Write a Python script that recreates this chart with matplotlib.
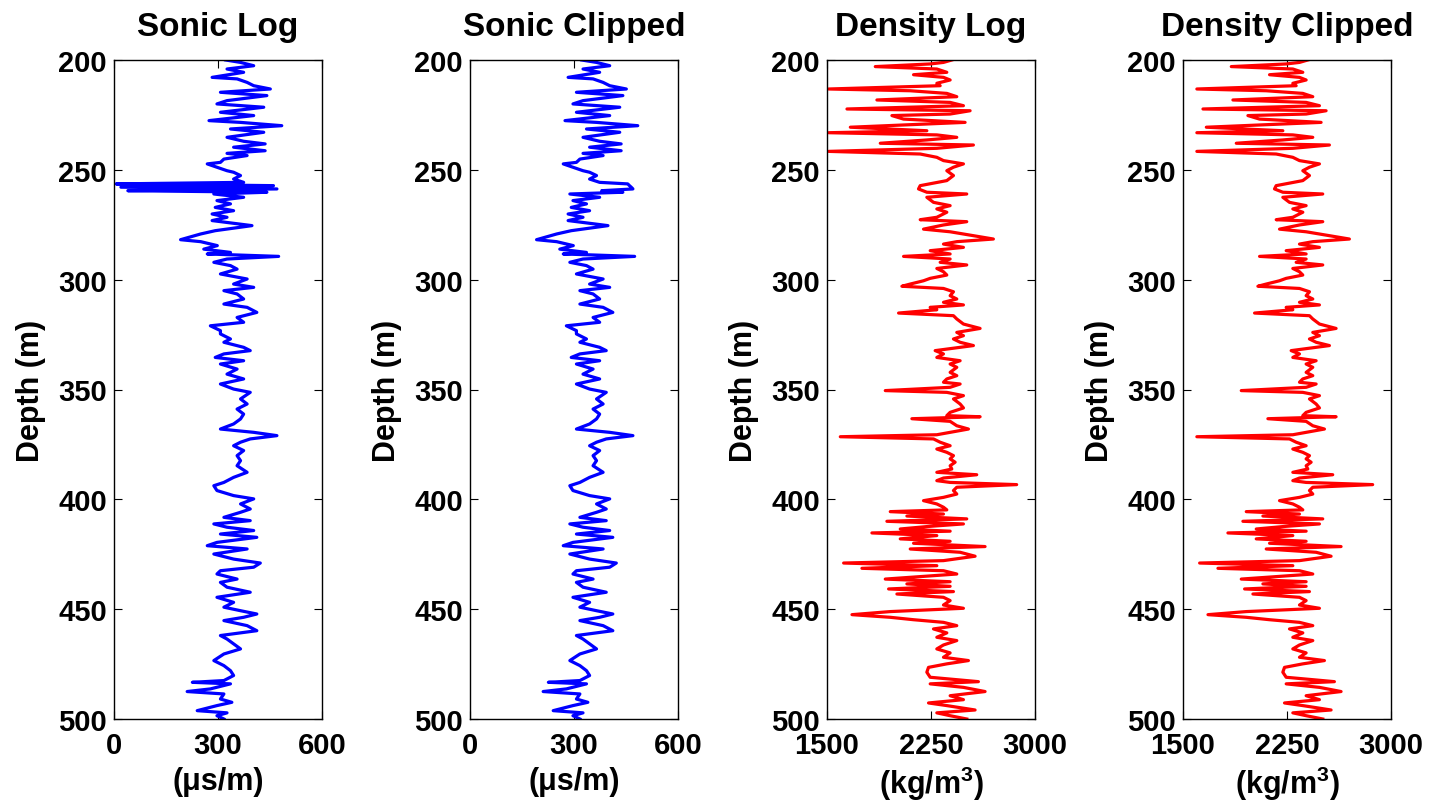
import matplotlib
matplotlib.use("Agg")
import matplotlib.pyplot as plt
import numpy as np

# ---- data ------------------------------------------------------------------
sonic_depth = [
    200.0, 201.1, 202.6, 204.1, 205.6, 207.9, 208.6, 210.2, 211.7, 213.2, 214.7, 216.2, 218.5, 220.0,
    221.5, 223.8, 225.3, 227.6, 228.4, 229.9, 231.4, 232.9, 235.2, 237.0, 238.2, 239.7, 241.3, 242.5,
    243.5, 245.1, 246.6, 247.3, 248.8, 250.4, 251.1, 252.6, 254.2, 255.7, 256.4, 257.2, 257.9, 258.7,
    259.5, 260.2, 261.0, 262.5, 264.0, 265.5, 267.1, 268.6, 270.1, 271.6, 273.1,
    275.4, 277.7, 279.2, 281.8, 282.7, 284.5, 286.1, 287.6, 288.3, 289.4, 290.6, 292.1, 293.6, 295.2,
    297.4, 299.7, 302.0, 303.5, 305.0, 306.5, 308.8, 311.1, 312.6, 314.9, 317.2, 319.4, 321.0, 323.2,
    324.7, 327.0, 328.5, 330.8, 332.3, 333.8, 335.4, 336.9, 338.4, 340.7, 343.0, 345.2, 347.5,
    349.8, 351.3, 354.3, 356.6, 358.9, 361.2, 363.4, 365.7, 368.0, 369.5, 371.0, 372.5, 374.0, 375.6,
    377.8, 380.1, 382.4, 384.7, 387.7, 390.0, 392.3, 393.8, 396.0, 398.3, 399.8, 402.1, 404.4, 405.9,
    408.2, 409.7, 411.2, 412.7, 414.2, 415.8, 417.3, 419.6, 421.1,
    422.6, 424.9, 427.2, 429.0, 430.9, 432.5, 434.0, 436.3, 437.8, 440.0, 442.3, 444.6, 446.9, 449.1,
    450.7, 452.2, 453.7, 455.2, 457.5, 459.8, 462.0, 463.6, 465.8, 468.1, 470.4, 473.4, 475.7, 478.0,
    480.2, 482.5, 483.3, 484.0, 486.3, 487.5, 488.6, 490.9, 492.4, 493.9, 496.2, 497.2, 498.5, 500.0,
]
sonic = [
    322, 365, 403, 326, 374, 283, 355, 384, 403, 451, 307, 441, 326, 297,
    432, 307, 403, 274, 365, 484, 336, 432, 326, 374, 436, 345, 436, 326,
    384, 317, 307, 269, 297, 326, 345, 365, 345, 374, 6, 460, 20, 470,
    40, 441, 288, 374, 297, 336, 292, 345, 283, 326, 283,
    398, 292, 250, 192, 250, 298, 259, 336, 269, 475, 326, 288, 336, 355,
    307, 384, 345, 403, 317, 355, 374, 317, 384, 412, 355, 374, 278, 307,
    307, 336, 317, 374, 393, 317, 292, 374, 307, 355, 326, 374, 307,
    345, 393, 365, 384, 355, 374, 365, 345, 307, 403, 470, 393, 365, 345,
    374, 355, 365, 355, 384, 345, 317, 288, 297, 345, 403, 365, 393, 365,
    317, 393, 288, 326, 403, 307, 412, 297, 269,
    384, 288, 345, 422, 403, 307, 297, 355, 307, 326, 393, 297, 345, 317,
    365, 412, 374, 317, 384, 412, 307, 326, 345, 365, 317, 288, 317, 336,
    345, 317, 226, 336, 278, 211, 317, 307, 340, 297, 240, 326, 297, 317,
]
# values that replace the spike in the clipped sonic log
sonic_fix_depth = [256.4, 257.9, 259.5]
sonic_fix = [455, 465, 380]

density_depth = [
    200.0, 201.1, 201.8, 203.0, 204.1, 205.6, 206.7, 207.9, 209.1, 210.6, 211.7, 213.2, 214.0, 215.2,
    216.7, 218.2, 219.3, 220.8, 222.3, 223.1, 224.6, 225.3, 226.9, 228.4, 229.4, 230.6, 232.2, 233.1,
    234.1, 235.2, 236.4, 237.9, 238.7, 240.2, 241.6, 242.8, 244.3, 245.8, 247.3, 248.8, 250.4, 252.6,
    254.9, 257.2, 258.7, 260.2, 261.0, 262.5, 264.8, 266.3, 267.8, 269.3, 271.6, 272.7,
    273.6, 275.1, 277.0, 278.2, 279.7, 281.5, 282.7, 283.8, 285.3, 286.8, 288.3, 289.4, 290.6, 292.1,
    293.3, 294.9, 296.4, 297.9, 299.4, 300.5, 302.0, 303.0, 304.0, 305.5, 307.3, 308.8, 310.3, 311.5,
    312.6, 313.7, 315.2, 316.4, 317.9, 320.2, 322.2, 324.0, 325.5, 327.0, 328.5, 330.0, 332.3, 333.8,
    335.4, 336.9, 338.4, 339.9, 342.2, 343.7, 345.2, 346.7,
    347.5, 349.0, 350.5, 351.3, 352.8, 354.3, 356.6, 358.4, 360.4, 361.9, 362.4, 363.3, 364.5, 366.5,
    368.0, 369.5, 370.6, 371.5, 372.5, 374.0, 375.6, 377.1, 378.6, 380.1, 381.6, 383.1, 384.7, 386.2,
    387.7, 388.8, 390.3, 391.5, 392.3, 393.3, 394.5, 396.0, 397.6, 399.1, 400.6, 402.1, 403.6, 404.8,
    405.6, 406.7, 407.6, 408.9, 410.0, 411.2, 412.4, 413.5, 414.5, 415.3, 416.5, 418.0, 419.1, 420.0,
    421.5,
    422.6, 424.1, 425.9, 427.9, 429.0, 430.2, 431.4, 432.5, 434.0, 435.5, 436.3, 437.5, 438.5, 439.6,
    440.8, 442.0, 443.1, 444.6, 446.1, 448.1, 449.6, 451.1, 452.5, 453.7, 454.8, 456.0, 457.5, 459.0,
    460.8, 462.8, 464.3, 466.3, 468.1, 469.9, 471.9, 473.4, 474.9, 476.5, 478.7, 481.0, 483.0, 484.0,
    485.6, 487.5, 489.4, 491.2, 492.7, 493.9, 495.9, 497.2, 498.5, 500.0,
]
density = [
    2400, 2340, 2244, 1848, 2292, 2364, 2124, 2340, 2388, 2292, 2316, 1512, 2100, 2364,
    2436, 1860, 2388, 2484, 1644, 2532, 2388, 1968, 2052, 2496, 2124, 1668, 2220, 1512,
    2292, 2436, 2220, 1884, 2556, 2292, 1512, 2172, 2292, 2340, 2484, 2412, 2364, 2412,
    2364, 2172, 2160, 2220, 2508, 2220, 2268, 2388, 2292, 2364, 2292, 2172,
    2508, 2340, 2196, 2388, 2532, 2700, 2436, 2340, 2484, 2244, 2388, 2052, 2388, 2316,
    2508, 2292, 2340, 2364, 2244, 2196, 2100, 2040, 2340, 2412, 2388, 2436, 2340, 2484,
    2244, 2292, 2016, 2412, 2436, 2484, 2604, 2436, 2484, 2412, 2460, 2556, 2280, 2340,
    2292, 2460, 2388, 2436, 2388, 2436, 2364, 2340,
    2460, 2388, 1920, 2364, 2484, 2412, 2460, 2484, 2388, 2364, 2604, 2112, 2388, 2436,
    2520, 2388, 2292, 1596, 2268, 2316, 2388, 2292, 2364, 2412, 2388, 2424, 2388, 2400,
    2292, 2580, 2340, 2292, 2388, 2868, 2436, 2412, 2436, 2340, 2196, 2292, 2340, 2364,
    1956, 2340, 2076, 2508, 1932, 2484, 2220, 2028, 2388, 1824, 2292, 2028, 2388, 2124,
    2640,
    2100, 2460, 2568, 2340, 1620, 2292, 1752, 2340, 2436, 2100, 1920, 2388, 2076, 2388,
    1944, 2412, 2004, 2340, 2388, 2340, 2484, 1956, 1680, 1956, 2124, 2340, 2436, 2268,
    2364, 2292, 2436, 2340, 2292, 2388, 2340, 2520, 2364, 2232, 2220, 2244, 2592, 2244,
    2484, 2640, 2388, 2484, 2232, 2364, 2568, 2292, 2388, 2508,
]
density_min = 1600  # lower clip for the clipped density log

titles = ["Sonic Log", "Sonic Clipped", "Density Log", "Density Clipped"]
sonic_ticks = [0, 300, 600]
density_ticks = [1500, 2250, 3000]
depth_ticks = [200, 250, 300, 350, 400, 450, 500]

# ---- derived series --------------------------------------------------------
sonic_depth = np.array(sonic_depth)
sonic = np.array(sonic, dtype=float)
sonic_clipped = sonic.copy()
for d, v in zip(sonic_fix_depth, sonic_fix):
    sonic_clipped[np.isclose(sonic_depth, d)] = v
density_depth = np.array(density_depth)
density = np.array(density, dtype=float)
density_clipped = np.clip(density, density_min, None)

# ---- style -----------------------------------------------------------------
plt.rcParams['font.family'] = ['Liberation Sans', 'DejaVu Sans']
plt.rcParams['font.weight'] = 'bold'
plt.rcParams['mathtext.fontset'] = 'custom'
plt.rcParams['mathtext.rm'] = 'Liberation Sans:bold'
plt.rcParams['mathtext.it'] = 'Liberation Sans:bold'
plt.rcParams['mathtext.bf'] = 'Liberation Sans:bold'

fig = plt.figure(figsize=(14.35, 8.12), dpi=100)

W, H = 1435.0, 812.0
lefts = [114, 470, 827, 1183]
ax_w, ax_top, ax_bot = 208, 61, 720

panels = [
    (sonic, sonic_depth, 'blue', (0, 600), sonic_ticks, u'(\u03bcs/m)', 5),
    (sonic_clipped, sonic_depth, 'blue', (0, 600), sonic_ticks, u'(\u03bcs/m)', 5),
    (density, density_depth, 'red', (1500, 3000), density_ticks, r'(kg/m$^{3}$)', 3),
    (density_clipped, density_depth, 'red', (1500, 3000), density_ticks, r'(kg/m$^{3}$)', 3),
]

for i, (vals, dep, col, xlim, xt, xlab, lpad) in enumerate(panels):
    ax = fig.add_axes([lefts[i] / W, (H - ax_bot) / H, ax_w / W, (ax_bot - ax_top) / H])
    ax.plot(vals, dep, color=col, lw=2.3)
    ax.set_xlim(*xlim)
    ax.set_ylim(500, 200)
    ax.set_xticks(xt)
    ax.set_yticks(depth_ticks)
    ax.tick_params(direction='in', top=True, right=True, length=6, width=0.8,
                   labelsize=21)
    ax.tick_params(axis='x', pad=9)
    ax.tick_params(axis='y', pad=5)
    for s in ax.spines.values():
        s.set_linewidth(1.0)
    ax.set_title(titles[i], fontsize=24, fontweight='bold', pad=18)
    ax.set_ylabel("Depth (m)", fontsize=22, fontweight='bold', labelpad=9)
    ax.set_xlabel(xlab, fontsize=22, fontweight='bold', labelpad=lpad)

fig.savefig("out.png", dpi=100)
